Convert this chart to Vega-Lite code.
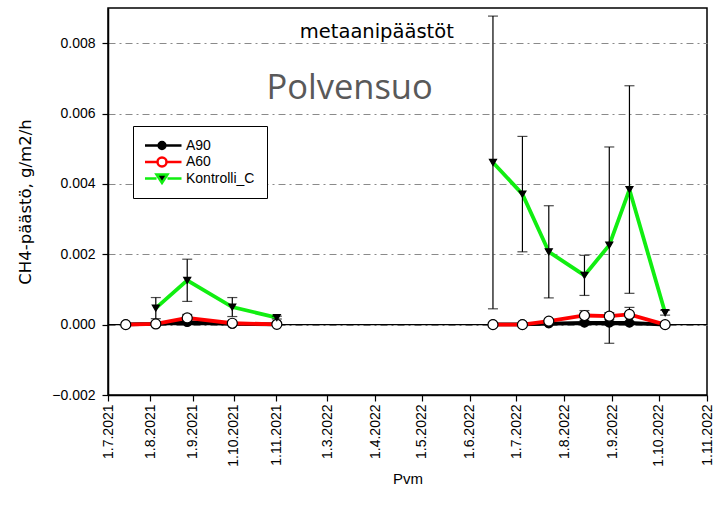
{
  "$schema": "https://vega.github.io/schema/vega-lite/v6.json",
  "width": 599,
  "height": 387,
  "autosize": {"type": "none"},
  "padding": {"left": 108, "top": 8, "right": 12, "bottom": 123},
  "background": "white",
  "config": {
    "font": "Liberation Sans",
    "view": {"stroke": "black", "strokeWidth": 1.5},
    "axis": {
      "domainColor": "black", "domainWidth": 1.5,
      "tickColor": "black", "tickWidth": 1.2, "tickSize": 6,
      "labelColor": "black", "labelFont": "Liberation Sans", "labelFontSize": 14,
      "titleColor": "black", "titleFontWeight": "normal"
    }
  },
  "data": {
    "values": [
      {"series": "A90", "date": "2021-07-14", "value": 0.00001},
      {"series": "A90", "date": "2021-08-05", "value": 0.00002},
      {"series": "A90", "date": "2021-08-28", "value": 0.00007},
      {"series": "A90", "date": "2021-09-30", "value": 0.00002},
      {"series": "A90", "date": "2021-11-03", "value": 0.00001},
      {"series": "A90", "date": "2022-06-16", "value": 0.00001},
      {"series": "A90", "date": "2022-07-05", "value": 0.00001},
      {"series": "A90", "date": "2022-07-22", "value": 0.00003},
      {"series": "A90", "date": "2022-08-14", "value": 0.00005},
      {"series": "A90", "date": "2022-08-30", "value": 0.00005},
      {"series": "A90", "date": "2022-09-12", "value": 0.00005},
      {"series": "A90", "date": "2022-10-05", "value": 0.0},
      {"series": "A60", "date": "2021-07-14", "value": 0.0},
      {"series": "A60", "date": "2021-08-05", "value": 0.00002},
      {"series": "A60", "date": "2021-08-28", "value": 0.00019, "err": 0.0001},
      {"series": "A60", "date": "2021-09-30", "value": 0.00004},
      {"series": "A60", "date": "2021-11-03", "value": 0.00001},
      {"series": "A60", "date": "2022-06-16", "value": 0.0},
      {"series": "A60", "date": "2022-07-05", "value": 0.0},
      {"series": "A60", "date": "2022-07-22", "value": 0.0001},
      {"series": "A60", "date": "2022-08-14", "value": 0.00026, "err": 0.00014},
      {"series": "A60", "date": "2022-08-30", "value": 0.00024, "err": 0.0001},
      {"series": "A60", "date": "2022-09-12", "value": 0.00029, "err": 0.0002},
      {"series": "A60", "date": "2022-10-05", "value": 0.0},
      {"series": "Kontrolli_C", "date": "2021-08-05", "value": 0.00047, "err": 0.0003},
      {"series": "Kontrolli_C", "date": "2021-08-28", "value": 0.00126, "err": 0.0006},
      {"series": "Kontrolli_C", "date": "2021-09-30", "value": 0.0005, "err": 0.00027},
      {"series": "Kontrolli_C", "date": "2021-11-03", "value": 0.0002, "err": 0.00004},
      {"series": "Kontrolli_C", "date": "2022-06-16", "value": 0.00461, "err": 0.00416},
      {"series": "Kontrolli_C", "date": "2022-07-05", "value": 0.00371, "err": 0.00164},
      {"series": "Kontrolli_C", "date": "2022-07-22", "value": 0.00207, "err": 0.00131},
      {"series": "Kontrolli_C", "date": "2022-08-14", "value": 0.0014, "err": 0.00057},
      {"series": "Kontrolli_C", "date": "2022-08-30", "value": 0.00226, "err": 0.00279},
      {"series": "Kontrolli_C", "date": "2022-09-12", "value": 0.00384, "err": 0.00295},
      {"series": "Kontrolli_C", "date": "2022-10-05", "value": 0.00034, "err": 0.00007}
    ],
    "format": {"parse": {"date": "utc:'%Y-%m-%d'"}}
  },
  "encoding": {
    "x": {
      "field": "date", "type": "quantitative", "title": "Pvm",
      "scale": {
        "domain": [1625097600000, 1635724800000, 1646092800000, 1667260800000],
        "range": [0, 168, 219, 599],
        "nice": false, "zero": false
      },
      "axis": {
        "values": [1625097600000, 1627776000000, 1630454400000, 1633046400000, 1635724800000,
                   1646092800000, 1648771200000, 1651363200000, 1654041600000, 1656633600000,
                   1659312000000, 1661990400000, 1664582400000, 1667260800000],
        "labelExpr": "utcFormat(datum.value, '%-d.%-m.%Y')",
        "labelAngle": -90, "labelPadding": 3, "labelOverlap": false, "labelFlush": false,
        "grid": false, "titleFontSize": 15, "titlePadding": 5, "titleFont": "Liberation Sans"
      }
    },
    "y": {
      "field": "value", "type": "quantitative",
      "title": "CH4-päästö, g/m2/h",
      "scale": {"domain": [-0.002, 0.009], "nice": false, "zero": false},
      "axis": {
        "values": [-0.002, 0, 0.002, 0.004, 0.006, 0.008],
        "format": ".3f", "labelPadding": 7,
        "grid": true, "gridColor": "#8a8a8a", "gridDash": [7, 4, 2, 4], "gridWidth": 1,
        "titleFont": "DejaVu Sans", "titleFontSize": 16.5, "titlePadding": 18
      }
    }
  },
  "layer": [
    {
      "data": {"values": [{"zero": 0}]},
      "mark": {"type": "rule", "color": "black", "strokeWidth": 1.2},
      "encoding": {"y": {"field": "zero", "type": "quantitative"}, "x": null}
    },
    {
      "mark": {"type": "line", "strokeWidth": 3.8},
      "encoding": {
        "detail": {"field": "date", "timeUnit": "utcyear", "type": "ordinal"},
        "stroke": {
          "field": "series", "type": "nominal",
          "scale": {"domain": ["A90", "A60", "Kontrolli_C"], "range": ["black", "#ff0000", "#11ee11"]},
          "legend": {
            "title": null, "orient": "none", "legendX": 25, "legendY": 118,
            "strokeColor": "black", "padding": 12, "fillColor": "white",
            "labelFontSize": 14, "labelFont": "Liberation Sans", "labelColor": "black",
            "symbolSize": 100, "symbolOffset": 10, "labelOffset": 17, "rowPadding": 1.5,
            "clipHeight": 15,
            "symbolStrokeWidth": 2.5, "symbolOpacity": 1,
            "symbolType": {"expr": "datum.value == 'Kontrolli_C' ? 'M-3.9,0H-1.1M1.1,0H3.9M-1.1,-0.8L1.1,-0.8L0,0.9Z' : (datum.value == 'A60' ? 'M-3.9,0H-0.9M0.9,0H3.9M0.9,0A0.9,0.9,0,1,1,-0.9,0A0.9,0.9,0,1,1,0.9,0Z' : 'M-3.9,0H3.9M0.68,0A0.68,0.68,0,1,1,-0.68,0A0.68,0.68,0,1,1,0.68,0Z')"},
            "symbolFillColor": {"expr": "datum.value == 'A60' ? 'white' : 'black'"}
          }
        }
      }
    },
    {
      "transform": [{"filter": "isValid(datum.err)"}],
      "mark": {"type": "errorbar", "ticks": {"size": 10}, "color": "black", "thickness": 1.2},
      "encoding": {
        "y": {"field": "value", "type": "quantitative"},
        "yError": {"field": "err"}
      }
    },
    {
      "mark": {"type": "point", "filled": true, "stroke": "black", "strokeWidth": 1.2, "opacity": 1},
      "encoding": {
        "shape": {
          "field": "series", "type": "nominal",
          "scale": {"range": ["circle", "circle", "triangle-down"]},
          "legend": null
        },
        "fill": {
          "field": "series", "type": "nominal",
          "scale": {"range": ["white", "black", "black"]},
          "legend": null
        },
        "size": {
          "field": "series", "type": "nominal",
          "scale": {"range": [100, 49, 125]},
          "legend": null
        }
      }
    },
    {
      "data": {"values": [{"label": "metaanipäästöt", "lx": 1640563200000, "ly": 0.00816}]},
      "mark": {"type": "text", "align": "left", "baseline": "alphabetic", "font": "DejaVu Sans", "fontSize": 19.5, "color": "black"},
      "encoding": {
        "x": {"field": "lx", "type": "quantitative"},
        "y": {"field": "ly", "type": "quantitative"},
        "text": {"field": "label"}
      }
    },
    {
      "data": {"values": [{"label": "Polvensuo", "lx": 1635120000000, "ly": 0.00641}]},
      "mark": {"type": "text", "align": "left", "baseline": "alphabetic", "font": "Open Sans", "fontSize": 34.5, "color": "#595959"},
      "encoding": {
        "x": {"field": "lx", "type": "quantitative"},
        "y": {"field": "ly", "type": "quantitative"},
        "text": {"field": "label"}
      }
    }
  ]
}
